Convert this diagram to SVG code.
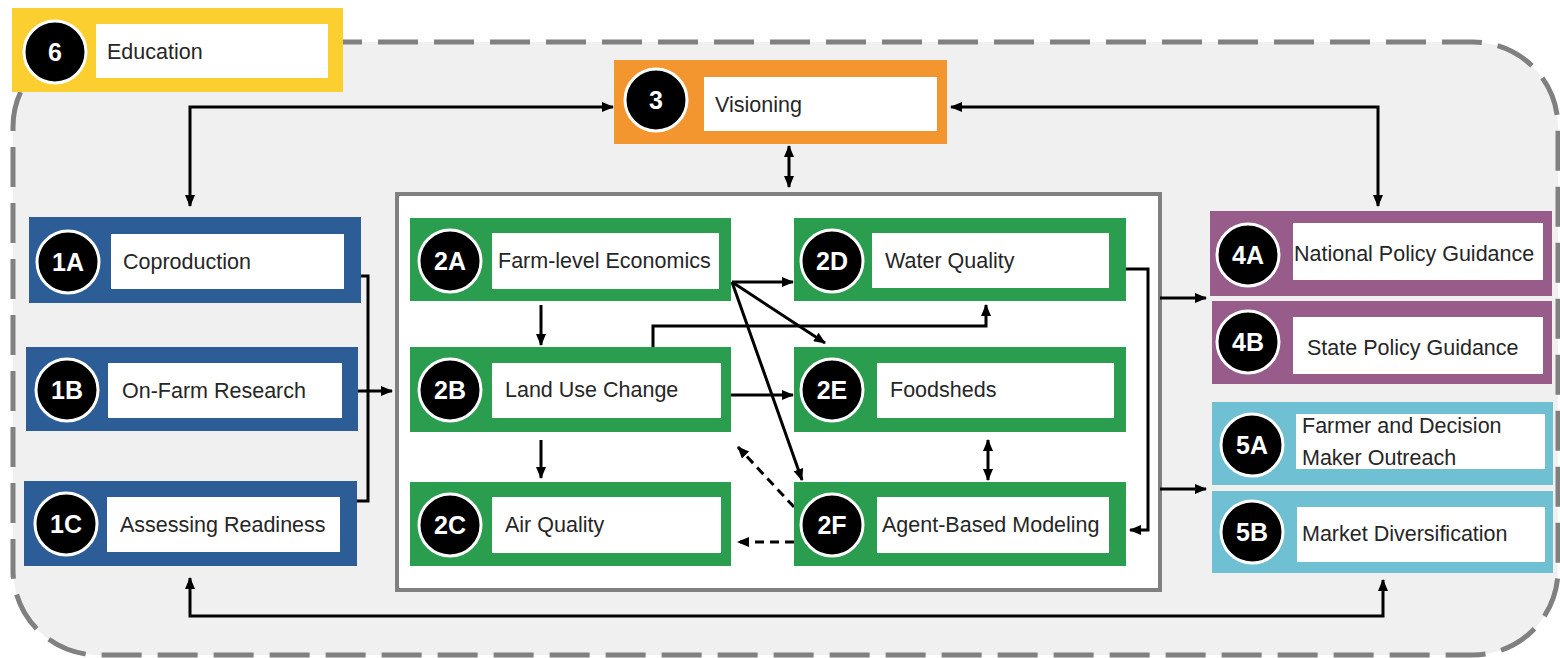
<svg xmlns="http://www.w3.org/2000/svg" width="1560" height="658" viewBox="0 0 1560 658">
<style>
.lbl{font-family:"Liberation Sans",Arial,sans-serif;font-size:21.5px;fill:#262626}
.num{font-family:"Liberation Sans",Arial,sans-serif;font-size:25px;font-weight:bold;fill:#fff;text-anchor:middle}
.badge{fill:#000;stroke:#fff;stroke-width:3}
.inner{fill:#fff}
.c1{fill:#2C5D96}.c2{fill:#2A9D4F}.c3{fill:#F4962F}.c4{fill:#985C8B}.c5{fill:#70C0D4}.c6{fill:#FBCF30}
.con{fill:none;stroke:#000;stroke-width:3}
.dash{stroke-dasharray:9 6}
</style>
<defs>
<marker id="ah" viewBox="0 0 12 10" refX="11" refY="5" markerWidth="12" markerHeight="10" markerUnits="userSpaceOnUse" orient="auto-start-reverse">
<path d="M0,0 L12,5 L0,10 z" fill="#000" stroke="none"/>
</marker>
</defs>
<rect id="frame" x="13" y="42" width="1545" height="613" rx="85" ry="85" fill="#F0F0F0" stroke="#808080" stroke-width="5" stroke-dasharray="40 16"/>
<rect id="container" x="397" y="194" width="763" height="396" fill="#fff" stroke="#808080" stroke-width="4"/>

<g id="connectors">
<path class="con" d="M613,107 L190,107 L190,206" marker-start="url(#ah)" marker-end="url(#ah)"/>
<path class="con" d="M951,107 L1378,107 L1378,206" marker-start="url(#ah)" marker-end="url(#ah)"/>
<path class="con" d="M789,146 L789,187" marker-start="url(#ah)" marker-end="url(#ah)"/>
<path class="con" d="M190,578 L190,616 L1383,616 L1383,580" marker-start="url(#ah)" marker-end="url(#ah)"/>
<path class="con" d="M361,276 L368,276 L368,501 L357,501"/>
<path class="con" d="M358,391 L392,391" marker-end="url(#ah)"/>
<path class="con" d="M541,305 L541,345" marker-end="url(#ah)"/>
<path class="con" d="M541,440 L541,478" marker-end="url(#ah)"/>
<path class="con" d="M732,282 L793,282" marker-end="url(#ah)"/>
<path class="con" d="M732,282 L825,343" marker-end="url(#ah)"/>
<path class="con" d="M732,282 L802,480" marker-end="url(#ah)"/>
<path class="con" d="M731,395 L793,395" marker-end="url(#ah)"/>
<path class="con" d="M653,347 L653,326 L986,326 L986,305" marker-end="url(#ah)"/>
<path class="con" d="M988,440 L988,480" marker-start="url(#ah)" marker-end="url(#ah)"/>
<path class="con dash" d="M794,507 L738,447" marker-end="url(#ah)"/>
<path class="con dash" d="M794,542 L738,542" marker-end="url(#ah)"/>
<path class="con" d="M1126,269 L1148,269 L1148,530 L1130,530" marker-end="url(#ah)"/>
<path class="con" d="M1160,298 L1206,298" marker-end="url(#ah)"/>
<path class="con" d="M1160,489 L1206,489" marker-end="url(#ah)"/>
</g>

<g id="n6">
<rect class="c6" x="12" y="8" width="331" height="84"/>
<rect class="inner" x="96" y="24" width="232" height="54"/>
<circle class="badge" cx="55" cy="52" r="31"/>
<text class="num" x="55" y="61">6</text>
<text class="lbl" x="107" y="59">Education</text>
</g>

<g id="n3">
<rect class="c3" x="614" y="60" width="333" height="84"/>
<rect class="inner" x="704" y="77" width="233" height="54"/>
<circle class="badge" cx="656" cy="100" r="31"/>
<text class="num" x="656" y="109">3</text>
<text class="lbl" x="715" y="112">Visioning</text>
</g>

<g id="n1A">
<rect class="c1" x="29" y="217" width="332" height="86"/>
<rect class="inner" x="111" y="234" width="233" height="55"/>
<circle class="badge" cx="68" cy="262" r="31"/>
<text class="num" x="68" y="271">1A</text>
<text class="lbl" x="123" y="269">Coproduction</text>
</g>

<g id="n1B">
<rect class="c1" x="26" y="347" width="332" height="84"/>
<rect class="inner" x="108" y="363" width="234" height="55"/>
<circle class="badge" cx="67" cy="390" r="31"/>
<text class="num" x="67" y="399">1B</text>
<text class="lbl" x="122" y="398">On-Farm Research</text>
</g>

<g id="n1C">
<rect class="c1" x="24" y="481" width="333" height="85"/>
<rect class="inner" x="107" y="497" width="233" height="55"/>
<circle class="badge" cx="66" cy="524" r="31"/>
<text class="num" x="66" y="533">1C</text>
<text class="lbl" x="120" y="532">Assessing Readiness</text>
</g>

<g id="n2A">
<rect class="c2" x="410" y="218" width="321" height="83"/>
<rect class="inner" x="492" y="233" width="227" height="56"/>
<circle class="badge" cx="450" cy="261" r="31"/>
<text class="num" x="450" y="270">2A</text>
<text class="lbl" x="498" y="268">Farm-level Economics</text>
</g>

<g id="n2B">
<rect class="c2" x="410" y="347" width="321" height="85"/>
<rect class="inner" x="492" y="363" width="229" height="55"/>
<circle class="badge" cx="450" cy="390" r="31"/>
<text class="num" x="450" y="399">2B</text>
<text class="lbl" x="505" y="397">Land Use Change</text>
</g>

<g id="n2C">
<rect class="c2" x="410" y="482" width="321" height="84"/>
<rect class="inner" x="492" y="497" width="229" height="56"/>
<circle class="badge" cx="450" cy="525" r="31"/>
<text class="num" x="450" y="534">2C</text>
<text class="lbl" x="505" y="532">Air Quality</text>
</g>

<g id="n2D">
<rect class="c2" x="794" y="218" width="332" height="83"/>
<rect class="inner" x="872" y="233" width="237" height="55"/>
<circle class="badge" cx="832" cy="261" r="31"/>
<text class="num" x="832" y="270">2D</text>
<text class="lbl" x="885" y="268">Water Quality</text>
</g>

<g id="n2E">
<rect class="c2" x="794" y="347" width="332" height="85"/>
<rect class="inner" x="877" y="363" width="237" height="55"/>
<circle class="badge" cx="832" cy="390" r="31"/>
<text class="num" x="832" y="399">2E</text>
<text class="lbl" x="890" y="397">Foodsheds</text>
</g>

<g id="n2F">
<rect class="c2" x="794" y="482" width="332" height="84"/>
<rect class="inner" x="877" y="497" width="232" height="56"/>
<circle class="badge" cx="832" cy="525" r="31"/>
<text class="num" x="832" y="534">2F</text>
<text class="lbl" x="882" y="532">Agent-Based Modeling</text>
</g>

<g id="n4A">
<rect class="c4" x="1210" y="211" width="342" height="85"/>
<rect class="inner" x="1293" y="223" width="250" height="57"/>
<circle class="badge" cx="1248" cy="255" r="31"/>
<text class="num" x="1248" y="264">4A</text>
<text class="lbl" x="1294" y="261">National Policy Guidance</text>
</g>

<g id="n4B">
<rect class="c4" x="1212" y="301" width="340" height="83"/>
<rect class="inner" x="1293" y="317" width="250" height="57"/>
<circle class="badge" cx="1248" cy="342" r="31"/>
<text class="num" x="1248" y="351">4B</text>
<text class="lbl" x="1307" y="355">State Policy Guidance</text>
</g>

<g id="n5A">
<rect class="c5" x="1212" y="402" width="341" height="83"/>
<rect class="inner" x="1296" y="414" width="249" height="55"/>
<circle class="badge" cx="1252" cy="445" r="31"/>
<text class="num" x="1252" y="454">5A</text>
<text class="lbl" x="1302" y="433">Farmer and Decision</text>
<text class="lbl" x="1302" y="465">Maker Outreach</text>
</g>

<g id="n5B">
<rect class="c5" x="1212" y="491" width="341" height="82"/>
<rect class="inner" x="1297" y="507" width="248" height="55"/>
<circle class="badge" cx="1252" cy="532" r="31"/>
<text class="num" x="1252" y="541">5B</text>
<text class="lbl" x="1302" y="541">Market Diversification</text>
</g>
</svg>
